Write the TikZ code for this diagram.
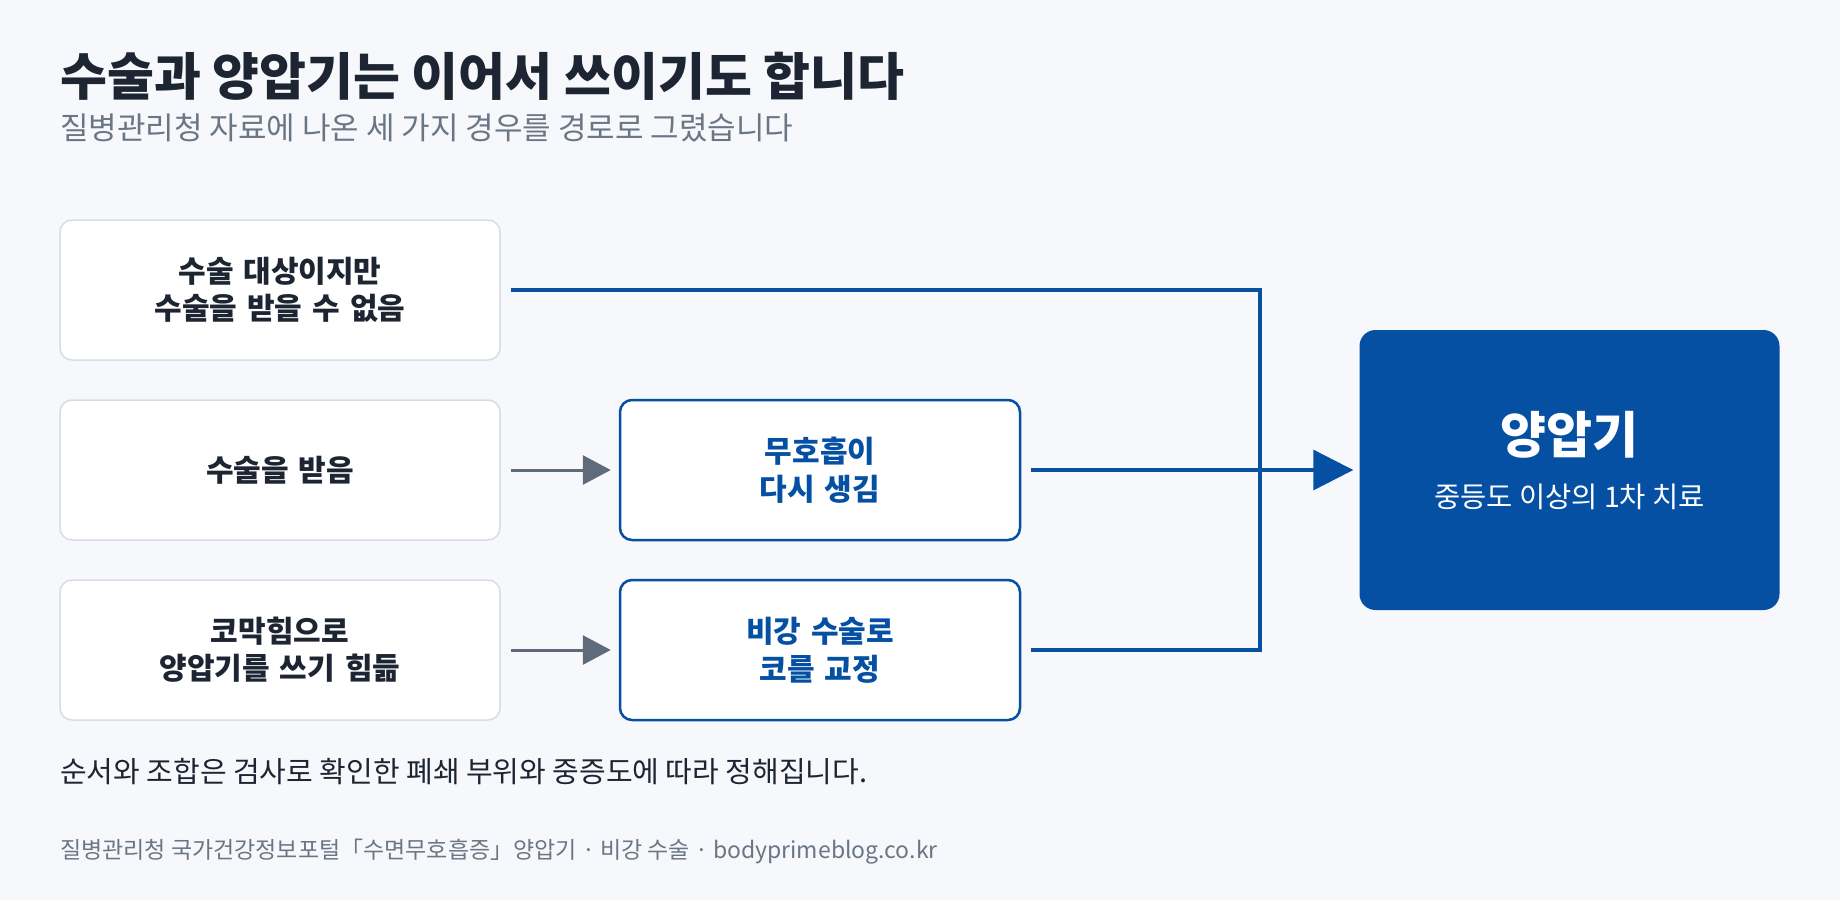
\documentclass[tikz,border=0pt]{standalone}
\usepackage{fontspec}
\setmainfont{Noto Sans CJK KR}
\usepackage{xcolor}
\usetikzlibrary{arrows.meta,calc,positioning}
\definecolor{bgc}{HTML}{F6F8FC}
\definecolor{inkc}{HTML}{1E2532}
\definecolor{greyc}{HTML}{6B7685}
\definecolor{edgec}{HTML}{D6DCE4}
\definecolor{bluec}{HTML}{0650A4}
\definecolor{arrowc}{HTML}{5F6B7A}

\begin{document}
\begin{tikzpicture}[x=1pt,y=-1pt,
    leftbox/.style={draw=edgec,line width=1.5pt,fill=white,rounded corners=12pt,minimum width=440pt,minimum height=140pt,text width=420pt,align=center,text=inkc,font=\fontsize{30}{37}\selectfont\bfseries},
    midbox/.style={draw=bluec,line width=2.5pt,fill=white,rounded corners=12pt,minimum width=400pt,minimum height=140pt,text width=380pt,align=center,text=bluec,font=\fontsize{30}{38}\selectfont\bfseries},
    greyarrow/.style={draw=arrowc,line width=3pt,-{Triangle[length=28pt,width=29pt]}},
    bluelink/.style={draw=bluec,line width=3.2pt},
    plaintext/.style={anchor=west,inner sep=0pt}]
    % background and page size
    \fill[bgc] (0,0) rectangle (1840,900);
    \useasboundingbox (0,0) rectangle (1840,900);
    % heading
    \node[plaintext,text=inkc,font=\fontsize{51}{60}\selectfont\bfseries] (title) at (60,76) {수술과 양압기는 이어서 쓰이기도 합니다};
    \node[plaintext,text=greyc,font=\fontsize{31}{38}\selectfont] (subtitle) at (60,128) {질병관리청 자료에 나온 세 가지 경우를 경로로 그렸습니다};
    % left column
    \node[leftbox] (cant) at (280,290) {수술 대상이지만\\수술을 받을 수 없음};
    \node[leftbox] (surg) at (280,470) {수술을 받음};
    \node[leftbox] (block) at (280,650) {코막힘으로\\양압기를 쓰기 힘듦};
    % middle column
    \node[midbox] (apnea) at (820,470) {무호흡이\\다시 생김};
    \node[midbox] (nose) at (820,650) {비강 수술로\\코를 교정};
    % cpap
    \node[fill=bluec,rounded corners=16pt,minimum width=420pt,minimum height=280pt] (cpap) at (1569.5,470) {};
    \node[text=white,font=\fontsize{50}{58}\selectfont\bfseries] (cpaptitle) at (1569.5,435) {양압기};
    \node[text=white,font=\fontsize{28.5}{34}\selectfont] (cpapnote) at (1569.5,497) {중등도 이상의 1차 치료};
    \coordinate (jn) at (1260,470);
    % connectors
    \draw[greyarrow] ([xshift=10pt]surg.east) -- ([xshift=-8pt]apnea.west);
    \draw[greyarrow] ([xshift=10pt]block.east) -- ([xshift=-8pt]nose.west);
    \draw[bluelink] ([xshift=10pt]cant.east) -| (jn);
    \draw[bluelink] ([xshift=10pt]nose.east) -| (jn);
    \draw[bluelink,-{Triangle[length=40pt,width=40pt]}] ([xshift=10pt]apnea.east) -- ([xshift=-6pt]cpap.west);
    % notes
    \node[plaintext,text=inkc,font=\fontsize{29}{34}\selectfont] (note) at (60,772) {순서와 조합은 검사로 확인한 폐쇄 부위와 중증도에 따라 정해집니다.};
    \node[plaintext,text=greyc,font=\fontsize{23}{28}\selectfont] (source) at (60,852) {질병관리청 국가건강정보포털「수면무호흡증」양압기 · 비강 수술 · bodyprimeblog.co.kr};
\end{tikzpicture}
\end{document}
